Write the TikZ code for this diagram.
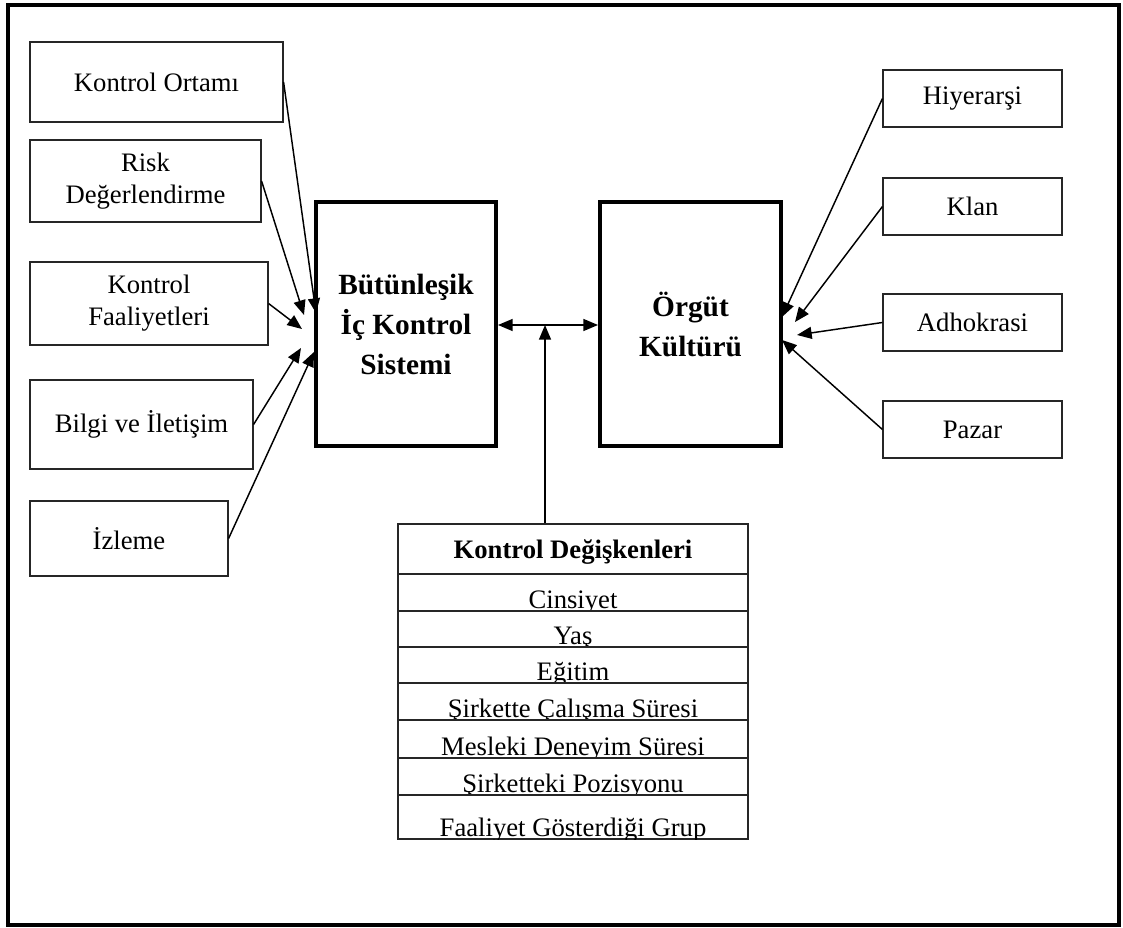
\documentclass[tikz,border=0pt]{standalone}
\usepackage{fontspec}
\setmainfont{Liberation Serif}
\usetikzlibrary{arrows.meta}
% box from its corners: style, name, x1, y1, x2, y2, text
\newcommand\mkbox[7]{%
  \node[#1, minimum width={(#5-#3)*0.75pt}, minimum height={(#6-#4)*0.75pt}]
    (#2) at ({(#3+#5)/2},{(#4+#6)/2}) {#7};}
\begin{document}
\begin{tikzpicture}[x=0.75pt,y=-0.75pt,
  thinbox/.style={draw=black!85,line width=0.85pt,inner sep=0pt,align=center,
    font=\fontsize{20}{24}\selectfont},
  thickbox/.style={draw=black,line width=3pt,inner sep=0pt,align=center,
    font=\fontsize{22}{30}\selectfont\bfseries},
  link/.style={line width=1.1pt,-{Triangle[length=11pt,width=9pt]}},
  both/.style={line width=1.1pt,{Triangle[length=11pt,width=9pt]}-{Triangle[length=11pt,width=9pt]}},
  cell/.style={draw=black!85,line width=0.85pt},
  celltext/.style={anchor=base,inner sep=0pt,font=\fontsize{20}{24}\selectfont}]
\useasboundingbox (0,0) rectangle (1123,927);
% outer frame
\draw[line width=2.4pt] (8,5) rectangle (1119,925);

% components of the internal control system
\mkbox{thinbox}{ko}{30}{42}{283}{122}{Kontrol Ortamı}
\mkbox{thinbox}{rd}{30}{140}{261}{222}{Risk\\Değerlendirme}
\mkbox{thinbox}{kf}{30}{262}{268}{345}{Kontrol\\Faaliyetleri}
\mkbox{thinbox}{bi}{30}{380}{253}{469}{Bilgi ve İletişim}
\mkbox{thinbox}{iz}{30}{501}{228}{576}{İzleme}

% main constructs
\mkbox{thickbox}{bics}{316}{202}{496}{446}{Bütünleşik\\İç Kontrol\\Sistemi}
\mkbox{thickbox}{org}{600}{202}{781}{446}{Örgüt\\Kültürü}

% culture types
\mkbox{thinbox}{hi}{883}{70}{1062}{127}{Hiyerarşi}
\mkbox{thinbox}{kl}{883}{178}{1062}{235}{Klan}
\mkbox{thinbox}{ad}{883}{294}{1062}{351}{Adhokrasi}
\mkbox{thinbox}{pa}{883}{401}{1062}{458}{Pazar}

% arrow end points
\coordinate (tko) at (316,313);
\coordinate (trd) at (304,315);
\coordinate (tkf) at (302,329);
\coordinate (tbi) at (301,348);
\coordinate (tiz) at (314,352);
\coordinate (thi) at (782,317);
\coordinate (tkl) at (795,322);
\coordinate (tad) at (797,335);
\coordinate (tpa) at (782,340);
\coordinate (cv) at (545,325);

\draw[link] (ko.east) -- (tko);
\draw[link] (rd.east) -- (trd);
\draw[link] (kf.east) -- (tkf);
\draw[link] (bi.east) -- (tbi);
\draw[link] (iz.east) -- (tiz);
\draw[link] (hi.west) -- (thi);
\draw[link] (kl.west) -- (tkl);
\draw[link] (ad.west) -- (tad);
\draw[link] (pa.west) -- (tpa);

\draw[both] (bics.east |- cv) -- (org.west |- cv);

% control variables table
\mkbox{cell}{vars}{398}{524}{748}{839}{}
\node[celltext,font=\fontsize{20}{24}\selectfont\bfseries] (hdr) at (573,558) {Kontrol Değişkenleri};
\foreach \txt/\ya/\yb [count=\i] in {
    Cinsiyet/574/611,
    Yaş/611/647,
    Eğitim/647/683,
    Şirkette Çalışma Süresi/683/720,
    Mesleki Deneyim Süresi/720/758,
    Şirketteki Pozisyonu/758/795,
    Faaliyet Gösterdiği Grup/795/839}{
  \begin{scope}
    \clip (398,\ya) rectangle (748,\yb);
    \node[celltext] (row\i) at (573,\yb-2.5) {\txt};
  \end{scope}
  \draw[cell] (398,\ya) -- (748,\ya);
}
\draw[link] (cv |- vars.north) -- (cv);
\end{tikzpicture}
\end{document}
